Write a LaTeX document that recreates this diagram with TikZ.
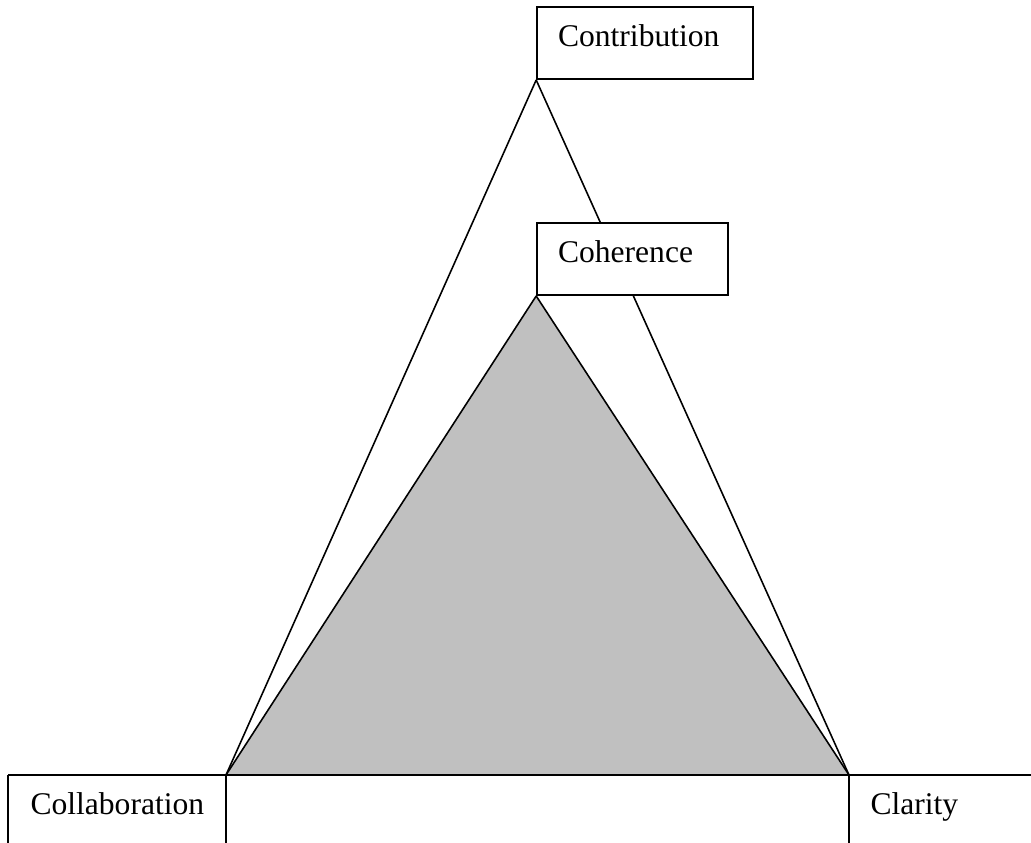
\documentclass[tikz,border=0pt]{standalone}
\usepackage{fontspec}
\setmainfont{Liberation Serif}
\usepackage{tikz}
\usepackage{xcolor}
\definecolor{trigray}{RGB}{192,192,192}

\begin{document}
\begin{tikzpicture}[
    x=0.38pt, y=-0.38pt,
    box/.style={rectangle, draw, fill=white, line width=0.6pt, inner xsep=8pt, inner ysep=0pt,
                align=left, text height=15pt, text depth=12.5pt, font=\fontsize{12}{14}\selectfont},
    edge/.style={line width=0.6pt},
    label/.style={anchor=base west, inner sep=0pt, font=\fontsize{12}{14}\selectfont}
]
    \useasboundingbox (0,0) rectangle (1031,842);

    % Corners on the base line
    \coordinate (left) at (8,775);
    \coordinate (colr) at (226,775);
    \coordinate (clal) at (849,775);
    \coordinate (right) at (1031,775);
    \coordinate (leftb) at (8,846);
    \coordinate (colrb) at (226,846);
    \coordinate (clalb) at (849,846);

    % Contribution and outer triangle
    \node[box, text width=66.1pt] (contrib) at (645,43) {Contribution};
    \draw[edge] (contrib.south west) -- (colr);
    \draw[edge] (contrib.south west) -- (clal);

    % Coherence and shaded triangle
    \node[box, text width=56.6pt] (coh) at (632.5,259) {Coherence};
    \fill[trigray] (coh.south west) -- (colr) -- (clal) -- cycle;
    \draw[edge] (coh.south west) -- (colr);
    \draw[edge] (coh.south west) -- (clal);

    % Bottom boxes
    \draw[edge] (left) -- (right);
    \draw[edge] (left) -- (leftb);
    \draw[edge] (colr) -- (colrb);
    \draw[edge] (clal) -- (clalb);
    \node[label] (collab) at (30,814) {Collaboration};
    \node[label] (clarity) at (870,814) {Clarity};
\end{tikzpicture}
\end{document}
